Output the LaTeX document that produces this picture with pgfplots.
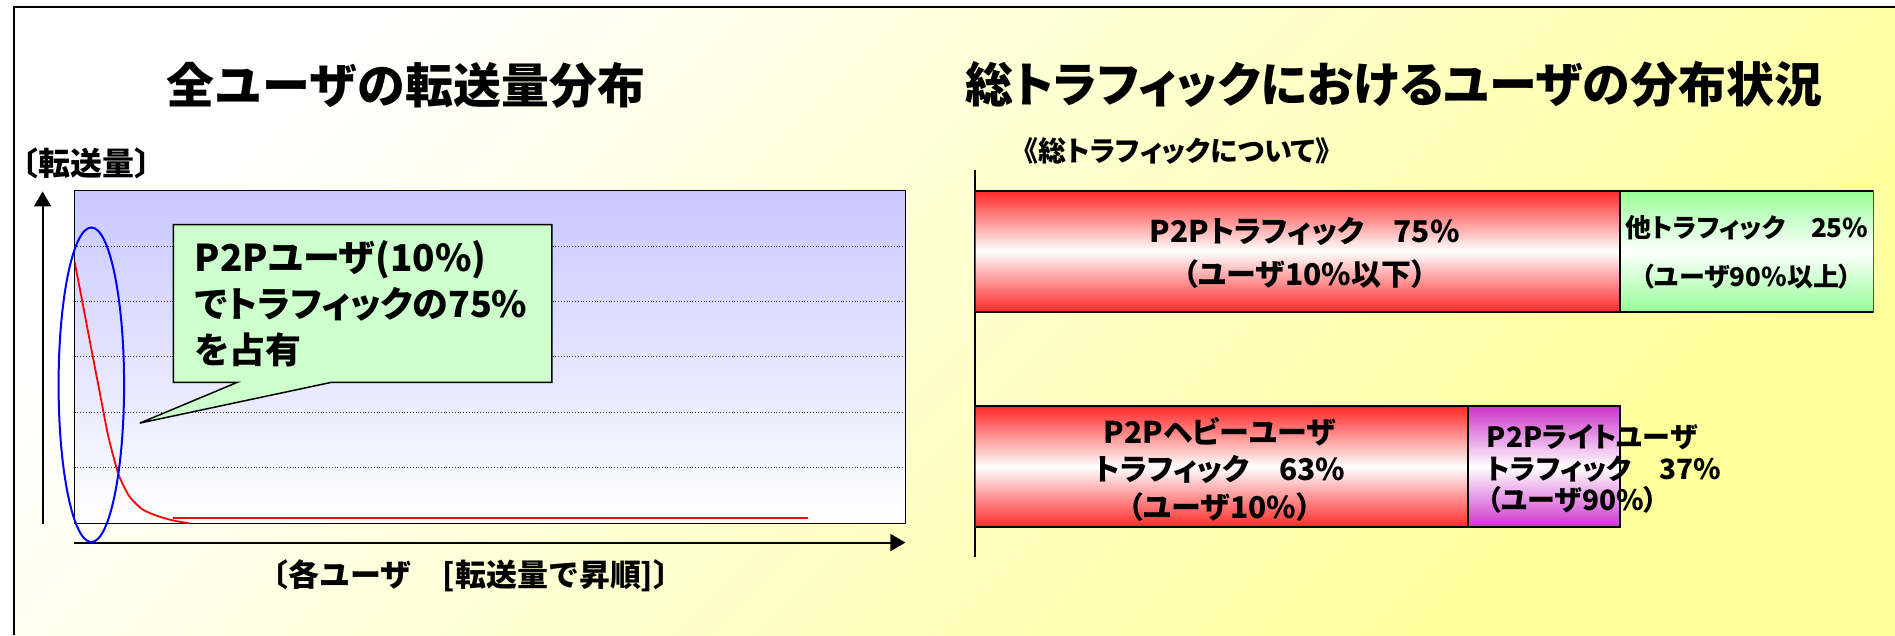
\documentclass[border=0pt]{standalone}
\usepackage{fontspec}
\setmainfont{Noto Sans CJK JP}
\newfontfamily\jpp{Noto Sans CJK JP}[RawFeature=+palt]
\usepackage{pgfplots}
\pgfplotsset{compat=1.18}
\usetikzlibrary{arrows.meta}
\definecolor{bgyellow}{RGB}{255,255,153}
\definecolor{lav}{RGB}{200,200,255}
\definecolor{callout}{RGB}{204,255,204}
\definecolor{barred}{RGB}{255,40,40}
\definecolor{bargreen}{RGB}{150,255,150}
\definecolor{barpurple}{RGB}{204,51,204}
\newcommand\fs[2]{\fontsize{#1}{#2}\selectfont}
\pgfplotsset{barax/.style={at={(487pt,-279pt)}, anchor=south west,
  width=449.75pt, height=194pt, scale only axis,
  xmin=0, xmax=100, ymin=-0.419, ymax=1.377, enlargelimits=false,
  xbar stacked, bar width=60.5pt,
  xtick=\empty, ytick=\empty,
  axis line style={line width=1pt}},
  barst/.style={draw=black, line width=1pt, top color=#1, bottom color=#1, middle color=white}}
\begin{document}
\begin{tikzpicture}
\begin{scope}[x=0.5pt,y=-0.5pt]
\useasboundingbox (0,0) rectangle (1895,636);
\fill[white] (0,0) rectangle (1895,636);
\shade[top color=white, bottom color=bgyellow, shading angle=45] (11,7) rectangle (1895,636);
\draw[line width=1pt] (11,636) -- (11,7) -- (1895,7);
\end{scope}

% left chart: distribution of transfer volume
\begin{axis}[at={(36pt,-262pt)}, anchor=south west,
  width=416pt, height=166.5pt, scale only axis,
  xmin=0, xmax=100, ymin=0, ymax=6,
  xtick=\empty, ytick={1,2,3,4,5}, yticklabels={},
  major tick length=0pt, ymajorgrids,
  grid style={densely dotted, black!80, line width=0.5pt},
  axis line style={line width=0.75pt},
  axis background/.style={shade, top color=lav, bottom color=white}]
\addplot[red, line width=0.9pt, smooth, tension=0.4] coordinates {
(0,4.72) (0.96,3.98) (1.96,3.19) (2.97,2.41) (3.97,1.63) (4.77,1.15)
(5.37,0.85) (6.57,0.49) (8.17,0.25) (10.18,0.12) (12.18,0.04) (13.79,0.0)};
\addplot[red, line width=0.9pt] coordinates {(11.8,0.09) (88.3,0.09)};
\end{axis}

% right chart, top row: P2P traffic vs other traffic
\begin{axis}[barax, axis x line=none, axis y line*=left]
\addplot[barst=barred] coordinates {(71.8,1)};
\addplot[barst=bargreen] coordinates {(28.2,1)};
\end{axis}
% right chart, bottom row: heavy vs light P2P users
\begin{axis}[barax, axis lines=none]
\addplot[barst=barred] coordinates {(54.8,0)};
\addplot[barst=barpurple] coordinates {(17.0,0)};
\end{axis}

\begin{scope}[x=0.5pt,y=-0.5pt]
% arrows
\draw[line width=1pt, -{Triangle[width=8.5pt,length=7.5pt]}] (40,525) -- (40,191.7);
\draw[line width=1pt, -{Triangle[width=8.5pt,length=7.5pt]}] (71.7,543.3) -- (904,543.3);
% callout
\draw[fill=callout, line width=0.75pt] (171,225) -- (550,225) -- (550,383) -- (328.6,383)
  -- (137.3,423.7) -- (234.7,383) -- (171,383) -- cycle;
\node[anchor=west, inner sep=0, font=\jpp\bfseries\fs{18.5pt}{22pt}] at (192,260) {P2Pユーザ(10\%)};
\node[anchor=west, inner sep=0, font=\jpp\bfseries\fs{18pt}{22pt}] at (192,305) {でトラフィックの75\%};
\node[anchor=west, inner sep=0, font=\jpp\bfseries\fs{18pt}{22pt}] at (192,350) {を占有};
% ellipse
\draw[blue, line width=1pt] (88.8,385.3) ellipse [x radius=32.8, y radius=157.5];
% titles
\node[font=\bfseries\fs{24pt}{28pt}] at (404,85) {全ユーザの転送量分布};
\node[font=\jpp\bfseries\fs{24pt}{28pt}] at (1393,85) {総トラフィックにおけるユーザの分布状況};
\node[font=\jpp\bfseries\fs{14pt}{17pt}] at (1176,151) {《総トラフィックについて》};
% axis labels
\node[font=\bfseries\fs{16pt}{19pt}] at (84,164) {〔転送量〕};
\node[font=\bfseries\fs{15.5pt}{18pt}] at (469,577) {〔各ユーザ　[転送量で昇順]〕};
% bar texts
\node[font=\jpp\bfseries\fs{15pt}{18pt}] at (1304,231.5) {P2Pトラフィック　75\%};
\node[font=\jpp\bfseries\fs{15pt}{18pt}] at (1304,275) {（ユーザ10\%以下）};
\node[font=\jpp\bfseries\fs{13pt}{16pt}] at (1746.5,228) {他トラフィック　25\%};
\node[font=\jpp\bfseries\fs{13pt}{16pt}] at (1746.5,277) {（ユーザ90\%以上）};
\node[font=\jpp\bfseries\fs{15pt}{18pt}] at (1219,432) {P2Pヘビーユーザ};
\node[font=\jpp\bfseries\fs{15pt}{18pt}] at (1219,470) {トラフィック　63\%};
\node[font=\jpp\bfseries\fs{15pt}{18pt}] at (1219,507.5) {（ユーザ10\%）};
\node[anchor=west, inner sep=0, font=\jpp\bfseries\fs{14pt}{17pt}] at (1486,438) {P2Pライトユーザ};
\node[anchor=west, inner sep=0, font=\jpp\bfseries\fs{14pt}{17pt}] at (1486,470) {トラフィック　37\%};
\node[anchor=west, inner sep=0, font=\jpp\bfseries\fs{14pt}{17pt}] at (1486,501) {（ユーザ90\%）};
\end{scope}
\end{tikzpicture}
\end{document}
